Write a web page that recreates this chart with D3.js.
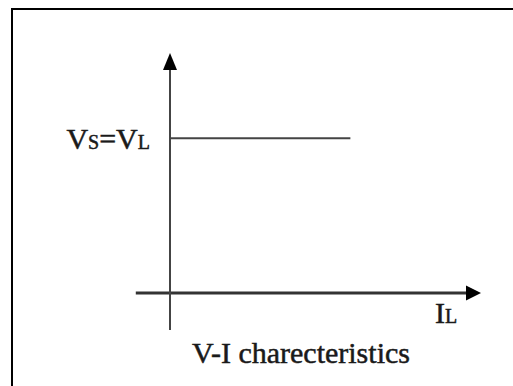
<!DOCTYPE html>
<html>
<head>
<meta charset="utf-8">
<script src="https://cdn.jsdelivr.net/npm/d3@7"></script>
<style>
  html, body { margin: 0; padding: 0; background: #fff; }
  svg { display: block; }
  text { font-family: "Liberation Serif", "Times New Roman", serif; fill: #1a1a1a; stroke: #1a1a1a; stroke-width: 0.5px; }
</style>
</head>
<body>
<svg id="chart" width="513" height="386"></svg>
<script>
// Data: V-I characteristic (ideal voltage source: constant V regardless of I)
const currentI = [0, 5.8];        // I_L values
const voltageV = [6.5, 6.5];      // V_S = V_L (constant)
const xDomain = [-1.1, 10];       // x-axis extent (I)
const yDomain = [-1.55, 10];      // y-axis extent (V)
const title = "V-I charecteristics";

const svg = d3.select("#chart");

// frame
svg.append("rect")
  .attr("x", 12).attr("y", 9)
  .attr("width", 520).attr("height", 400)
  .attr("fill", "none").attr("stroke", "#000").attr("stroke-width", 2);

const x = d3.scaleLinear().domain([0, 10]).range([170, 481]);
const y = d3.scaleLinear().domain([0, 10]).range([293, 55]);

const axisColor = "#333";

// x axis
svg.append("line")
  .attr("x1", x(xDomain[0])).attr("x2", x(xDomain[1]) - 12)
  .attr("y1", y(0)).attr("y2", y(0))
  .attr("stroke", axisColor).attr("stroke-width", 3);
svg.append("path")
  .attr("d", `M${x(xDomain[1])},${y(0)} L${x(xDomain[1]) - 15},${y(0) - 7.5} L${x(xDomain[1]) - 15},${y(0) + 7.5} Z`)
  .attr("fill", "#000");

// y axis
svg.append("line")
  .attr("x1", x(0)).attr("x2", x(0))
  .attr("y1", y(yDomain[0])).attr("y2", y(yDomain[1]) + 14)
  .attr("stroke", "#444").attr("stroke-width", 2);
svg.append("path")
  .attr("d", `M${x(0)},${y(yDomain[1]) - 2} L${x(0) - 7},${y(yDomain[1]) + 15} L${x(0) + 7},${y(yDomain[1]) + 15} Z`)
  .attr("fill", "#000");

// characteristic line
const line = d3.line().x((d, i) => x(currentI[i])).y((d, i) => y(voltageV[i]));
svg.append("path")
  .datum(currentI)
  .attr("d", line)
  .attr("fill", "none")
  .attr("stroke", "#444").attr("stroke-width", 2);

// V label
const vl = svg.append("text")
  .attr("x", 150).attr("y", y(voltageV[0]) + 11)
  .attr("text-anchor", "end")
  .attr("font-size", 30);
vl.append("tspan").text("V");
vl.append("tspan").attr("font-size", 20).text("S");
vl.append("tspan").text("=V");
vl.append("tspan").attr("font-size", 20).text("L");

// I label
const il = svg.append("text")
  .attr("x", 435).attr("y", 323)
  .attr("font-size", 30);
il.append("tspan").text("I");
il.append("tspan").attr("font-size", 20).text("L");

// caption
svg.append("text")
  .attr("x", 192).attr("y", 363)
  .attr("font-size", 30)
  .text(title);
</script>
</body>
</html>
